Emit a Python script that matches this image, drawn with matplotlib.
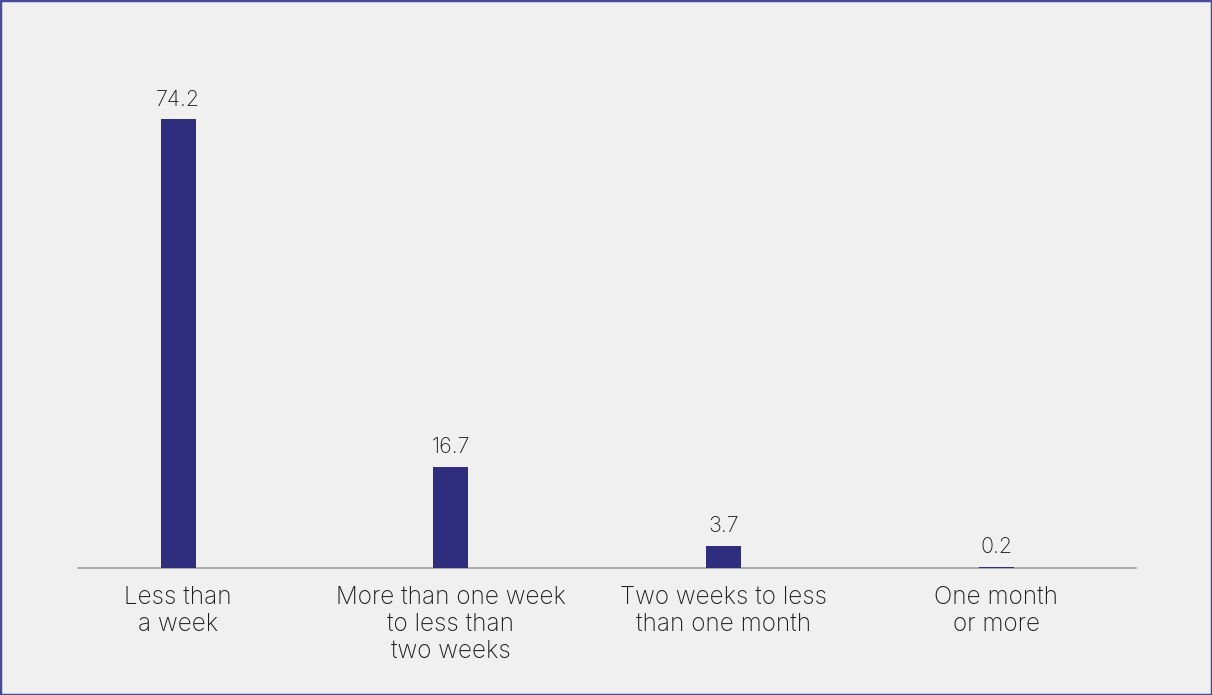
import matplotlib
matplotlib.use("Agg")
import matplotlib.pyplot as plt
from matplotlib.patches import Rectangle

categories = [
    "Less than\na week",
    "More than one week\nto less than\ntwo weeks",
    "Two weeks to less\nthan one month",
    "One month\nor more",
]
values = [74.2, 16.7, 3.7, 0.2]

BG = "#f0f0f0"
BAR = "#2f2e7e"
BORDER = "#4a4a9c"
TEXT = "#1e1e1e"

plt.rcParams["font.family"] = ["Inter", "DejaVu Sans"]

fig = plt.figure(figsize=(12.12, 6.95), dpi=100, facecolor=BG)
ax = fig.add_axes([0.0644, 0.1827, 0.873, 0.731])
ax.set_facecolor(BG)

x = list(range(len(categories)))
ax.bar(x, values, width=0.128, color=BAR, zorder=3)

for xi, v in zip(x, values):
    ax.annotate(f"{v:.1f}", (xi, v), xytext=(0, 7), textcoords="offset points",
                ha="center", va="bottom", fontsize=15.5, fontweight="light",
                color=TEXT)

ax.set_xlim(-0.367, 3.513)
ax.set_ylim(0, 84)
ax.set_xticks(x)
ax.set_xticklabels(categories, fontsize=17.5, fontweight="light", color=TEXT,
                   linespacing=1.22)
ax.tick_params(axis="x", length=0, pad=13)
ax.set_yticks([])
for s in ["top", "right", "left"]:
    ax.spines[s].set_visible(False)
ax.spines["bottom"].set_color("#a0a0a0")
ax.spines["bottom"].set_linewidth(1.2)

fig.patches.append(Rectangle((0, 0), 1, 1, transform=fig.transFigure, fill=False,
                             edgecolor=BORDER, linewidth=2.5, zorder=10))

fig.savefig("out.png", dpi=100, facecolor=BG)
